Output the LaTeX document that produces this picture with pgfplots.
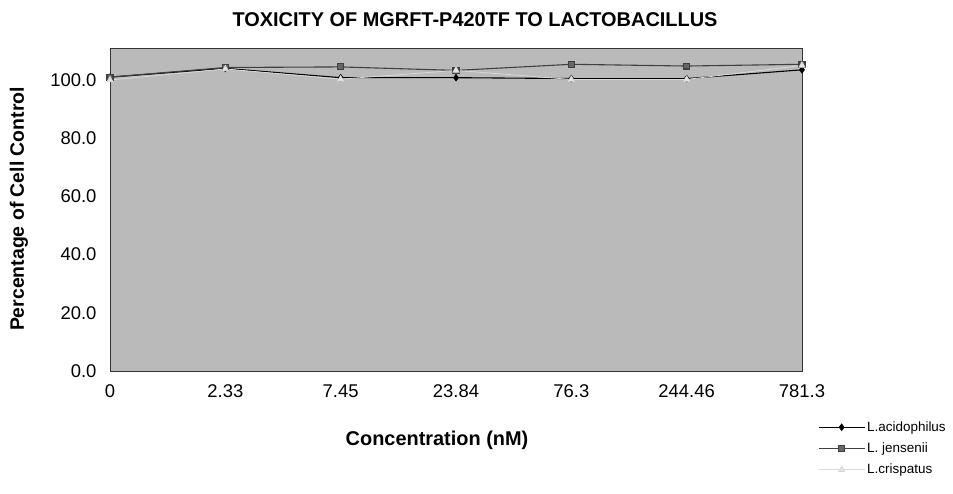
\documentclass[border=0pt]{standalone}
\usepackage{pgfplots}
\pgfplotsset{compat=1.18}
\usepackage{fontspec}
\setmainfont{Liberation Sans}
\begin{document}
\begin{tikzpicture}
\path[use as bounding box] (-110bp,-123bp) rectangle (843bp,371bp);
\begin{axis}[
  name=ax, at={(0,0)}, anchor=south west,
  scale only axis, width=692bp, height=323bp,
  xmin=0, xmax=6, ymin=0, ymax=111,
  xtick={0,1,2,3,4,5,6},
  xticklabels={0,2.33,7.45,23.84,76.3,244.46,781.3},
  ytick={0,20,40,60,80,100},
  yticklabel style={/pgf/number format/fixed,/pgf/number format/fixed zerofill,/pgf/number format/precision=1, xshift=-10bp},
  /pgf/number format/assume math mode=true,
  ticklabel style={font=\fontsize{18.5}{21}\selectfont},
  xticklabel style={yshift=-10bp},
  major tick length=0pt,
  axis background/.style={fill=black!27},
  axis line style={black!80, line width=0.6pt},
  clip=false,
  legend style={at={(1.023,-0.15)}, anchor=north west, draw=none, fill=none,
    font=\fontsize{13.5}{15}\selectfont, row sep=6bp, inner sep=0pt},
  legend cell align=left,
  legend image code/.code={
    \draw[mark repeat=2,mark phase=2,#1] plot coordinates {(0bp,0bp) (23bp,0bp) (46bp,0bp)};},
]
\addplot[black, line width=1.1pt, mark=diamond*, mark size=3pt] coordinates {
(0,101) (1,104.0) (2,100.8) (3,100.8) (4,100.5) (5,100.5) (6,103.5)};
\addlegendentry{L.acidophilus}
\addplot[black!75, line width=1.1pt, mark=square*, mark size=3pt,
  mark options={fill=black!60}] coordinates {
(0,101) (1,104.3) (2,104.5) (3,103.3) (4,105.4) (5,104.8) (6,105.4)};
\addlegendentry{L. jensenii}
\addplot[black!15, line width=0.8pt, mark=triangle*, mark size=3.5pt,
  mark options={fill=white!90!black}] coordinates {
(0,100) (1,103.8) (2,100.3) (3,103.3) (4,100.2) (5,100.2) (6,105)};
\addlegendentry{L.crispatus}
\end{axis}
\node[font=\bfseries\fontsize{20}{23}\selectfont] at (365bp,351bp) {TOXICITY OF MGRFT-P420TF TO LACTOBACILLUS};
\node[font=\bfseries\fontsize{20}{23}\selectfont] at (327bp,-69bp) {Concentration (nM)};
\node[font=\bfseries\fontsize{19.5}{22}\selectfont, rotate=90] at (-91bp,162bp) {Percentage of Cell Control};
\end{tikzpicture}
\end{document}
